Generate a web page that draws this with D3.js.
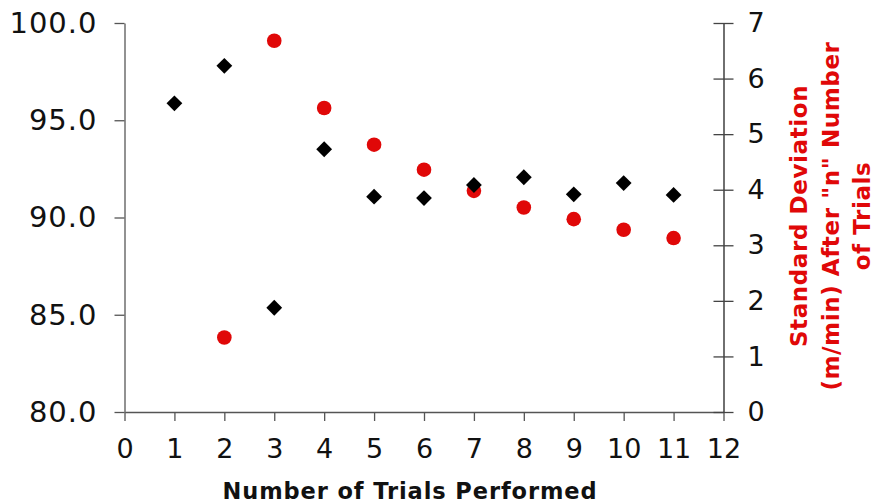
<!DOCTYPE html>
<html>
<head>
<meta charset="utf-8">
<script src="https://cdn.jsdelivr.net/npm/d3@7"></script>
<style>
  html, body { margin: 0; padding: 0; background: #fff; }
  svg { display: block; }
  .tick text { font-family: "DejaVu Sans", Verdana, sans-serif; }
</style>
</head>
<body>
<svg id="chart" width="874" height="504"></svg>
<script>
// Trial number on the x axis
const trials = [1, 2, 3, 4, 5, 6, 7, 8, 9, 10, 11];
// Left axis series (black diamonds)
const meanValues = [95.87, 97.80, 85.36, 93.51, 91.07, 91.00, 91.67, 92.07, 91.19, 91.77, 91.16];
// Right axis series (red circles): standard deviation after n trials
const sdTrials = [2, 3, 4, 5, 6, 7, 8, 9, 10, 11];
const sdValues = [1.34, 6.68, 5.47, 4.81, 4.36, 3.98, 3.68, 3.47, 3.28, 3.13];

const xTicks = [0, 1, 2, 3, 4, 5, 6, 7, 8, 9, 10, 11, 12];
const leftTicks = [80, 85, 90, 95, 100];
const rightTicks = [0, 1, 2, 3, 4, 5, 6, 7];
const xTitle = "Number of Trials Performed";
const rightTitle = ["Standard Deviation", "(m/min) After \"n\" Number", "of Trials"];

const svg = d3.select("#chart");
const FONT = "'DejaVu Sans', Verdana, sans-serif";
const RED = "#e00808";

const x = d3.scaleLinear().domain([0, 12]).range([124.5, 723.5]);
const yL = d3.scaleLinear().domain([80, 100]).range([412, 23]);
const yR = d3.scaleLinear().domain([0, 7]).range([412, 23]);

// Bottom axis
const gx = svg.append("g")
  .attr("transform", `translate(0,${yL(80)})`)
  .call(d3.axisBottom(x).tickValues(xTicks).tickFormat(d3.format("d"))
    .tickSizeInner(9).tickSizeOuter(0).tickPadding(18));
gx.select(".domain").attr("stroke", "#555").attr("stroke-width", 1.3);
gx.selectAll(".tick line").attr("stroke", "#555").attr("stroke-width", 1.3);
gx.selectAll(".tick text").attr("font-size", 27).attr("fill", "#111");

// Left axis
const gl = svg.append("g")
  .attr("transform", `translate(${x(0)},0)`)
  .call(d3.axisLeft(yL).tickValues(leftTicks).tickFormat(d3.format(".1f"))
    .tickSizeInner(10).tickSizeOuter(0).tickPadding(17));
gl.select(".domain").attr("stroke", "#777").attr("stroke-width", 1.6);
gl.selectAll(".tick line").attr("stroke", "#555").attr("stroke-width", 1.3);
gl.selectAll(".tick text").attr("font-size", 29).attr("letter-spacing", 1).attr("fill", "#111");

// Right axis, ticks crossing the axis line
const gr = svg.append("g")
  .attr("transform", `translate(${x(12)},0)`)
  .call(d3.axisRight(yR).tickValues(rightTicks).tickFormat(d3.format("d"))
    .tickSizeInner(10).tickSizeOuter(0).tickPadding(14));
gr.select(".domain").attr("stroke", "#222").attr("stroke-width", 1.3);
gr.selectAll(".tick line").attr("x1", -10).attr("stroke", "#444").attr("stroke-width", 1.3);
gr.selectAll(".tick text").attr("font-size", 27).attr("fill", "#111");

// Red circles (right axis)
svg.append("g").selectAll("circle")
  .data(sdTrials.map((t, i) => ({ t, v: sdValues[i] })))
  .join("circle")
  .attr("cx", d => x(d.t))
  .attr("cy", d => yR(d.v))
  .attr("r", 7.3)
  .attr("fill", RED);

// Black diamonds (left axis)
const diamond = d3.symbol().type(d3.symbolSquare).size(125);
svg.append("g").selectAll("path")
  .data(trials.map((t, i) => ({ t, v: meanValues[i] })))
  .join("path")
  .attr("d", diamond)
  .attr("transform", d => `translate(${x(d.t)},${yL(d.v)}) rotate(45)`)
  .attr("fill", "#000");

// X axis title
svg.append("text")
  .attr("x", 410).attr("y", 499)
  .attr("text-anchor", "middle")
  .attr("font-family", FONT).attr("font-weight", "bold")
  .attr("font-size", 22.5).attr("letter-spacing", 0.9).attr("fill", "#111")
  .text(xTitle);

// Right axis title, rotated
const rt = svg.append("text")
  .attr("transform", "translate(807,216) rotate(-90)")
  .attr("text-anchor", "middle")
  .attr("font-family", FONT).attr("font-weight", "bold")
  .attr("font-size", 23).attr("letter-spacing", 0.6).attr("fill", RED);
rightTitle.forEach((line, i) => {
  rt.append("tspan").attr("x", 0).attr("dy", i === 0 ? 0 : 31.5).text(line);
});
</script>
</body>
</html>
